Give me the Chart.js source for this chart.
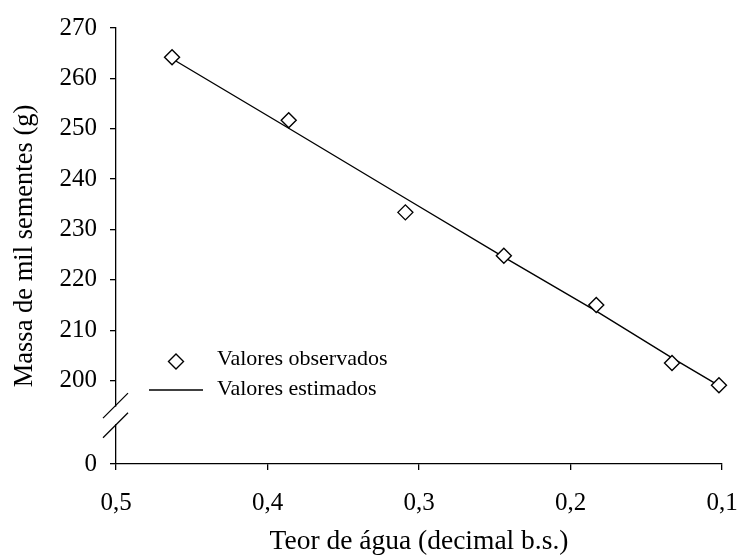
<!DOCTYPE html>
<html>
<head>
<meta charset="utf-8">
<script src="https://cdn.jsdelivr.net/npm/chart.js@4/dist/chart.umd.min.js"></script>
<style>
  html, body { margin: 0; padding: 0; background: #ffffff; }
  #wrap { width: 739px; height: 558px; position: relative; }
</style>
</head>
<body>
<div id="wrap"><canvas id="c" width="739" height="558"></canvas></div>
<script>
// ---- data ----
const teorAgua       = [0.463, 0.386, 0.309, 0.244, 0.183, 0.133, 0.102];
const massaObservada = [264.2, 251.7, 233.4, 224.8, 215.0, 203.5, 199.1];
const massaEstimada  = [263.9, 250.1, 236.2, 224.5, 213.8, 204.5, 199.0];
const xTickValues = [0.5, 0.4, 0.3, 0.2, 0.1];
const xTickLabels = ['0,5', '0,4', '0,3', '0,2', '0,1'];
const yTickValues = [200, 210, 220, 230, 240, 250, 260, 270];
const yBreakValue = 183.45;   // bottom of broken axis, labelled "0"
const yBreakLabel = '0';
const seriesLabels = ['Valores observados', 'Valores estimados'];
const xTitle = 'Teor de água (decimal b.s.)';
const yTitle = 'Massa de mil sementes (g)';

const FONT = "'Liberation Serif', 'Times New Roman', serif";

const obsPoints = teorAgua.map((x, i) => ({ x, y: massaObservada[i] }));
const estPoints = teorAgua.map((x, i) => ({ x, y: massaEstimada[i] }));

const breakAndLegend = {
  id: 'breakAndLegend',
  afterDraw(chart) {
    const ctx = chart.ctx;
    const ys = chart.scales.y;
    const ax = Math.round(ys.right) - 0.5;
    const p200 = ys.getPixelForValue(yTickValues[0]);
    const pb = ys.bottom;
    const c1 = p200 + 0.30 * (pb - p200);
    const c2 = p200 + 0.535 * (pb - p200);
    ctx.save();
    // gap in axis
    ctx.strokeStyle = '#ffffff';
    ctx.lineWidth = 4;
    ctx.beginPath(); ctx.moveTo(ax, c1 + 1); ctx.lineTo(ax, c2 - 1); ctx.stroke();
    // slashes
    ctx.strokeStyle = '#000000';
    ctx.lineWidth = 1.3;
    [c1, c2].forEach(c => {
      ctx.beginPath();
      ctx.moveTo(ax - 12.5, c + 12.5);
      ctx.lineTo(ax + 12.5, c - 12.5);
      ctx.stroke();
    });
    // legend
    const obsDs = chart.data.datasets[0];
    const estDs = chart.data.datasets[1];
    ctx.font = "22px " + FONT;
    ctx.textBaseline = 'middle';
    ctx.textAlign = 'left';
    ctx.lineWidth = obsDs.borderWidth;
    ctx.strokeStyle = obsDs.borderColor;
    ctx.fillStyle = obsDs.backgroundColor;
    const mx = 176, my = 361.5, r = obsDs.pointRadius;
    ctx.beginPath();
    ctx.moveTo(mx - r, my); ctx.lineTo(mx, my - r); ctx.lineTo(mx + r, my); ctx.lineTo(mx, my + r); ctx.closePath();
    ctx.fill(); ctx.stroke();
    ctx.fillStyle = '#000000';
    ctx.fillText(obsDs.label, 217, 359);
    ctx.lineWidth = estDs.borderWidth;
    ctx.strokeStyle = estDs.borderColor;
    ctx.beginPath(); ctx.moveTo(149, 390); ctx.lineTo(203, 390); ctx.stroke();
    ctx.fillText(estDs.label, 217, 389);
    ctx.restore();
  }
};

new Chart(document.getElementById('c'), {
  type: 'scatter',
  data: {
    datasets: [
      {
        label: seriesLabels[0],
        data: obsPoints,
        pointStyle: 'rectRot',
        pointRadius: 7.5,
        pointHoverRadius: 7.5,
        borderWidth: 1.4,
        borderColor: '#000000',
        backgroundColor: '#ffffff',
        showLine: false,
        clip: false,
        order: 0
      },
      {
        label: seriesLabels[1],
        data: estPoints,
        type: 'line',
        showLine: true,
        pointRadius: 0,
        borderWidth: 1.4,
        borderColor: '#000000',
        backgroundColor: '#000000',
        fill: false,
        tension: 0,
        clip: false,
        order: 1
      }
    ]
  },
  options: {
    responsive: false,
    animation: false,
    devicePixelRatio: 1,
    layout: { padding: { top: 28, right: 17, left: 0, bottom: 0 } },
    plugins: {
      legend: { display: false },
      tooltip: { enabled: false }
    },
    scales: {
      x: {
        type: 'linear',
        reverse: true,
        min: 0.1,
        max: 0.5,
        afterBuildTicks(scale) { scale.ticks = xTickValues.map(v => ({ value: v })); },
        afterFit(scale) { scale.height = 94; scale.paddingLeft = 0; scale.paddingRight = 0; },
        ticks: {
          color: '#000000',
          font: { family: FONT, size: 25 },
          padding: 18,
          maxRotation: 0,
          autoSkip: false,
          callback: (v) => {
            const i = xTickValues.findIndex(t => Math.abs(t - v) < 1e-9);
            return i >= 0 ? xTickLabels[i] : '';
          }
        },
        grid: { drawOnChartArea: false, drawTicks: true, tickLength: 6, color: '#000000', lineWidth: 1.3 },
        border: { display: true, color: '#000000', width: 1.3 },
        title: {
          display: true,
          text: xTitle,
          color: '#000000',
          font: { family: FONT, size: 27.5, lineHeight: 1.2 },
          padding: { top: 0, bottom: 0 }
        }
      },
      y: {
        type: 'linear',
        min: yBreakValue,
        max: 270,
        afterBuildTicks(scale) {
          scale.ticks = [{ value: yBreakValue }].concat(yTickValues.map(v => ({ value: v })));
        },
        afterFit(scale) { scale.width = 116; scale.paddingTop = 0; scale.paddingBottom = 0; },
        ticks: {
          color: '#000000',
          font: { family: FONT, size: 25 },
          padding: 13,
          autoSkip: false,
          callback: (v) => (Math.abs(v - yBreakValue) < 1e-9 ? yBreakLabel : String(v))
        },
        grid: { drawOnChartArea: false, drawTicks: true, tickLength: 6, color: '#000000', lineWidth: 1.3 },
        border: { display: true, color: '#000000', width: 1.3 },
        title: {
          display: true,
          text: yTitle,
          color: '#000000',
          font: { family: FONT, size: 26.5, lineHeight: 1.2 },
          padding: { top: 9, bottom: 0 }
        }
      }
    }
  },
  plugins: [breakAndLegend]
});
</script>
</body>
</html>
